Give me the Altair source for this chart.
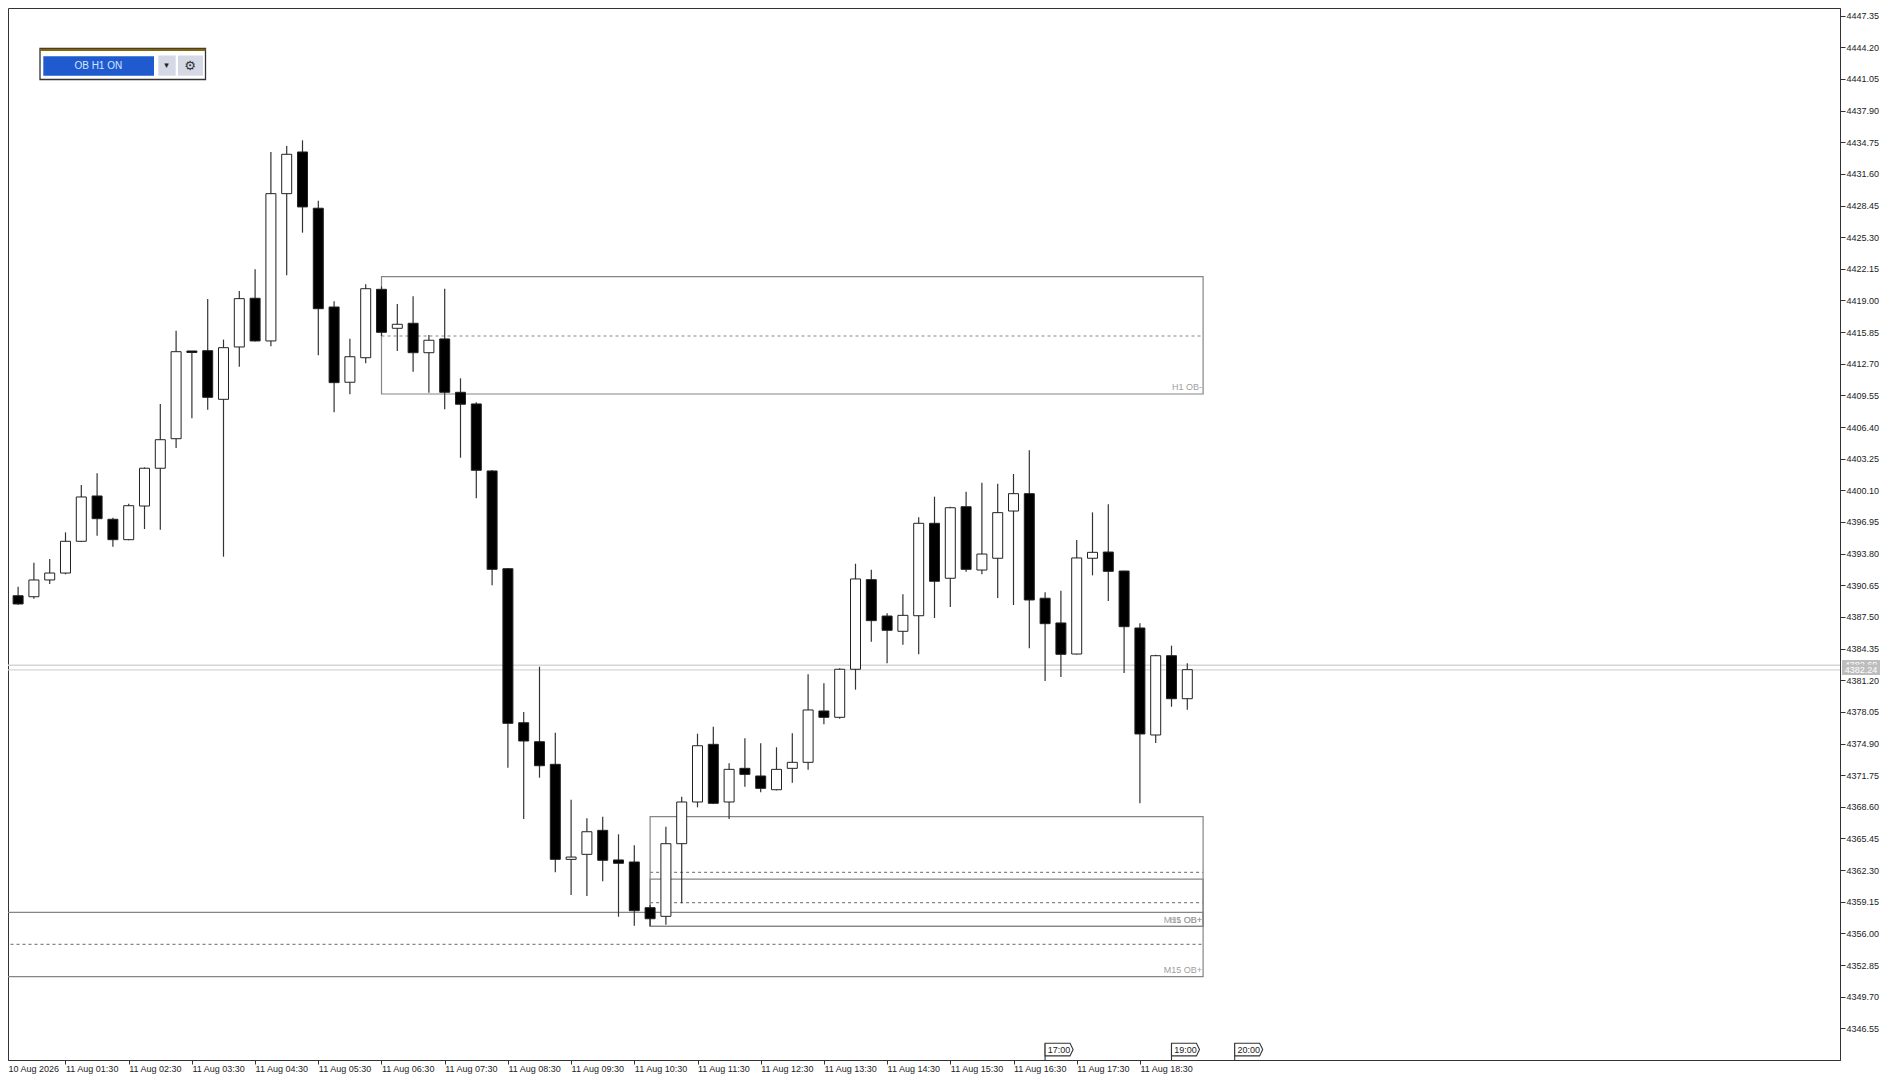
import json
import altair as alt
import pandas as pd

FONT = "Liberation Sans"

# 15-minute candles (index 0 = first candle at the left edge)
OPEN = [4391.01,4389.61,4389.51,4391.18,4391.87,4395.03,4399.54,4397.22,4395.19,4398.54,
        4402.30,4405.24,4413.97,4414.00,4409.16,4414.37,4419.22,4414.97,4429.63,4433.78,
        4428.18,4418.35,4410.86,4413.30,4420.11,4416.23,4416.73,4413.80,4415.17,4409.86,
        4408.70,4402.03,4392.30,4376.97,4375.08,4372.83,4363.37,4363.87,4366.26,4363.31,
        4363.11,4358.56,4357.70,4364.93,4369.08,4374.82,4369.08,4372.43,4371.67,4370.30,
        4372.43,4373.03,4378.14,4377.51,4382.29,4391.21,4387.59,4386.07,4387.62,4396.82,
        4391.35,4398.47,4392.17,4393.34,4398.04,4399.77,4389.36,4386.90,4383.81,4393.34,
        4393.96,4392.07,4386.40,4375.75,4383.64,4379.36]
HIGH = [4391.28,4390.51,4392.90,4393.27,4395.92,4400.63,4401.80,4397.38,4398.77,4402.39,
        4408.70,4415.99,4413.97,4419.15,4415.10,4419.94,4422.10,4433.78,4434.38,4434.94,
        4428.93,4418.92,4415.20,4420.61,4420.39,4418.65,4419.42,4415.56,4420.17,4411.25,
        4408.86,4402.13,4392.37,4378.04,4382.55,4375.98,4369.31,4367.46,4367.61,4365.86,
        4364.77,4358.83,4366.62,4369.61,4375.88,4376.57,4372.93,4375.42,4374.92,4374.52,
        4375.92,4381.79,4380.89,4382.39,4392.80,4392.20,4387.86,4389.75,4397.42,4399.47,
        4398.47,4399.97,4400.86,4400.76,4401.73,4404.09,4389.95,4390.11,4395.16,4397.91,
        4398.71,4392.10,4386.87,4383.74,4384.64,4382.88]
LOW = [4389.48,4388.72,4389.32,4390.78,4391.74,4394.99,4395.59,4394.49,4395.13,4396.25,
       4396.18,4404.32,4407.27,4408.13,4393.50,4412.41,4414.92,4414.44,4421.51,4425.75,
       4413.54,4407.87,4409.66,4412.75,4415.46,4413.97,4411.91,4409.82,4408.17,4403.35,
       4399.31,4390.65,4372.49,4367.39,4371.50,4362.08,4359.82,4359.72,4361.18,4357.66,
       4356.77,4356.74,4356.86,4358.99,4368.55,4368.88,4367.39,4370.60,4370.04,4370.24,
       4371.00,4372.29,4376.81,4377.37,4380.26,4385.03,4382.88,4384.74,4383.78,4387.39,
       4388.49,4392.00,4391.74,4389.38,4388.69,4384.38,4381.12,4381.52,4383.76,4391.64,
       4389.09,4381.92,4368.95,4374.95,4378.56,4378.27]
CLOSE = [4389.78,4388.79,4391.18,4391.87,4395.03,4399.44,4397.28,4395.19,4398.57,4402.30,
         4405.14,4413.90,4413.82,4409.36,4414.30,4419.18,4414.97,4429.63,4433.55,4428.31,
         4418.18,4410.82,4413.40,4420.17,4415.83,4416.63,4413.80,4415.04,4409.86,4408.67,
         4402.10,4392.24,4376.91,4375.15,4372.69,4363.37,4363.60,4366.12,4363.28,4362.98,
         4358.26,4357.46,4364.93,4369.08,4374.68,4368.95,4372.33,4371.83,4370.44,4372.33,
         4373.03,4378.24,4377.51,4382.29,4391.28,4387.13,4386.17,4387.66,4396.82,4391.05,
         4398.37,4392.24,4393.76,4397.88,4399.77,4389.19,4386.83,4383.78,4393.37,4393.93,
         4392.04,4386.53,4375.85,4383.64,4379.36,4382.25]

# Order-block zones: label, first candle, last candle, top, bottom, mid
BOX_LABEL = ["H1 OB-", "H1 OB+", "M15 OB+", "M15 OB+"]
BOX_START = [24, 41, 41, -1]
BOX_END = [76, 76, 76, 76]
BOX_TOP = [4421.37, 4367.62, 4361.41, 4358.10]
BOX_BOTTOM = [4409.69, 4356.71, 4356.71, 4351.69]
BOX_MID = [4415.46, 4362.08, 4359.06, 4354.91]

PRICE_LINES = [4382.69, 4382.24]
PRICE_TEXT = ["4382.69", "4382.24"]

Y_TICKS = [4447.35,4444.20,4441.05,4437.90,4434.75,4431.60,4428.45,4425.30,4422.15,4419.00,
           4415.85,4412.70,4409.55,4406.40,4403.25,4400.10,4396.95,4393.80,4390.65,4387.50,
           4384.35,4381.20,4378.05,4374.90,4371.75,4368.60,4365.45,4362.30,4359.15,4356.00,
           4352.85,4349.70,4346.55]
X_TICK_INDEX = [4,8,12,16,20,24,28,32,36,40,44,48,52,56,60,64,68,72]
X_TICK_LABEL = ["11 Aug 01:30","11 Aug 02:30","11 Aug 03:30","11 Aug 04:30","11 Aug 05:30",
                "11 Aug 06:30","11 Aug 07:30","11 Aug 08:30","11 Aug 09:30","11 Aug 10:30",
                "11 Aug 11:30","11 Aug 12:30","11 Aug 13:30","11 Aug 14:30","11 Aug 15:30",
                "11 Aug 16:30","11 Aug 17:30","11 Aug 18:30"]
TAG_INDEX = [66, 74, 78]
TAG_LABEL = ["17:00", "19:00", "20:00"]

candles = pd.DataFrame({"i": range(len(OPEN)), "open": OPEN, "high": HIGH, "low": LOW, "close": CLOSE})
candles["dir"] = ["up" if c > o else "down" for o, c in zip(OPEN, CLOSE)]
boxes = pd.DataFrame({"label": BOX_LABEL, "start": BOX_START, "end": BOX_END,
                      "top": BOX_TOP, "bottom": BOX_BOTTOM, "mid": BOX_MID})
tags = pd.DataFrame({"i": TAG_INDEX, "label": TAG_LABEL})
PX_PER_CANDLE = 15.8
tags["centre"] = tags["i"] + 14 / PX_PER_CANDLE
lines = pd.DataFrame({"price": PRICE_LINES})
one = pd.DataFrame({"a": [0]})

W, H = 1832, 1052
x_scale = alt.Scale(domain=[0.3608, 116.31], nice=False, zero=False, padding=0)
y_scale = alt.Scale(domain=[4343.40, 4448.11], nice=False, zero=False, padding=0)

label_expr = json.dumps({str(k): v for k, v in zip(X_TICK_INDEX, X_TICK_LABEL)}) + "[datum.value]"
x_axis = alt.Axis(orient="bottom", values=X_TICK_INDEX, labelExpr=label_expr, grid=False,
                  tickSize=4, labelPadding=0, labelFont=FONT, labelFontSize=9,
                  labelColor="#222", labelAlign="left", labelBaseline="top", title=None,
                  tickColor="#333", domainColor="#333", labelOverlap=False,
                  labelBound=False, labelFlush=False)
y_axis = alt.Axis(orient="right", values=Y_TICKS, format=".2f", grid=False, tickSize=5,
                  labelPadding=1, labelFont=FONT, labelFontSize=9, labelColor="#222", title=None,
                  tickColor="#333", domainColor="#333", labelOverlap=False,
                  labelBound=False, labelFlush=False)


def X(f):
    return alt.X(f, type="quantitative", scale=x_scale, axis=x_axis)


def Y(f):
    return alt.Y(f, type="quantitative", scale=y_scale, axis=y_axis)


def px(v):
    return alt.value(v - 8)


GREY = "#858585"

price_rules = alt.Chart(lines).mark_rule(color="#d6d6d6", strokeWidth=1.3, clip=True).encode(y=Y("price"))

box_rect = alt.Chart(boxes).mark_rect(fillOpacity=0, stroke=GREY, strokeWidth=1.2, clip=True).encode(
    x=X("start"), x2="end", y=Y("top"), y2="bottom")
box_mid = alt.Chart(boxes).mark_rule(color=GREY, strokeWidth=1.1, strokeDash=[3, 3], clip=True).encode(
    x=X("start"), x2="end", y=Y("mid"))
box_text = alt.Chart(boxes).mark_text(align="right", baseline="middle", dx=-1, dy=-6.5, font=FONT, fontSize=9,
                                      color="#a0a0a0").encode(x=X("end"), y=Y("bottom"), text="label:N")
wicks = alt.Chart(candles).mark_rule(color="#333", strokeWidth=1.2, clip=True).encode(
    x=X("i"), y=Y("high"), y2="low")
bodies = alt.Chart(candles).mark_bar(size=10, stroke="#222", strokeWidth=1, clip=True).encode(
    x=X("i"), y=Y("open"), y2="close",
    color=alt.Color("dir:N", scale=alt.Scale(domain=["up", "down"], range=["#ffffff", "#000000"]), legend=None))

tag_shape = "M-1,-.45 L.78,-.45 L1,0 L.78,.45 L-1,.45 Z"
tag_tail = alt.Chart(tags).mark_rule(color="#333", strokeWidth=1.1).encode(
    x=X("i"), y=px(1043.5), y2=px(1060))
tag_box = alt.Chart(tags).mark_point(shape=tag_shape, size=784, filled=True, fill="#fff", stroke="#333",
                                     strokeWidth=1.1, opacity=1).encode(x=X("centre"), y=px(1049.6))
tag_text = alt.Chart(tags).mark_text(font=FONT, fontSize=9, color="#222", baseline="middle").encode(
    x=X("centre"), y=px(1049.8), text="label:N")


def rect(x1, x2, y1, y2, fill, stroke=None, sw=1):
    kw = {"fill": fill}
    if stroke:
        kw.update(stroke=stroke, strokeWidth=sw)
    return alt.Chart(one).mark_rect(**kw).encode(x=px(x1), x2=px(x2), y=px(y1), y2=px(y2))


def text(s, x, y, color="#222", size=9, align="center", font=FONT):
    return alt.Chart(one).mark_text(text=s, font=font, fontSize=size, color=color, align=align,
                                    baseline="middle").encode(x=px(x), y=px(y))


first_label = text("10 Aug 2026", 8.5, 1068.7, align="left")

panel = [
    rect(40, 205.5, 48.5, 79.5, "#ffffff", "#333333", 1.3),
    rect(40, 205.5, 48.7, 51, "#85660f"),
    rect(43.3, 154, 56.3, 75.7, "#1f5bcf"),
    text("OB H1 ON", 98.3, 65.6, color="#d6e4ff", size=10),
    rect(158.3, 175.7, 55.5, 75.7, "#d5d9e5"),
    text("\u25be", 166.6, 65.3, color="#222", size=9, font="DejaVu Sans"),
    rect(178, 203, 55.5, 75.7, "#d5d9e5"),
    text("\u2699", 190, 66, color="#333", size=13, font="DejaVu Sans"),
]
price_tags = [
    rect(1842, 1880, 660, 670, "#bdbdbd"),
    text(PRICE_TEXT[0], 1861, 665.3, color="#ffffff"),
    rect(1842, 1880, 664.5, 675, "#bdbdbd"),
    text(PRICE_TEXT[1], 1861, 670, color="#ffffff"),
]

chart = alt.layer(
    price_rules, box_rect, box_mid, box_text, wicks, bodies,
    tag_tail, tag_box, tag_text, first_label, *panel, *price_tags,
).resolve_scale(x="shared", y="shared").properties(
    width=W, height=H, background="#ffffff",
    padding={"left": 0, "top": 0, "right": 43, "bottom": 18},
    autosize=alt.AutoSizeParams(type="none"),
).configure_view(stroke="#333", strokeWidth=1)

chart.save("out.html", embed_options={"renderer": "svg", "actions": False})
